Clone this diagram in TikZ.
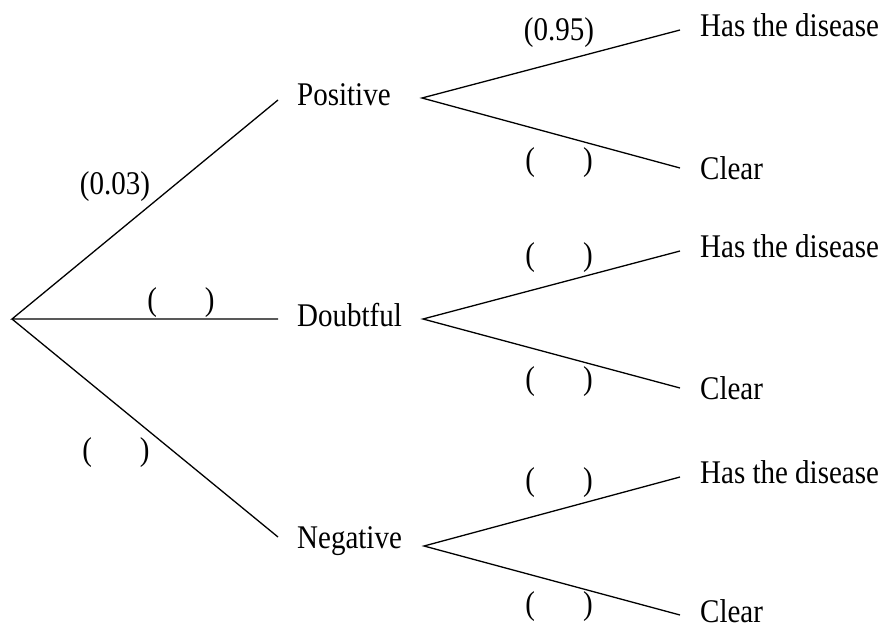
\documentclass[tikz,border=0pt]{standalone}
\usepackage{fontspec}
\setmainfont{Liberation Serif}
\newcommand\tallt[1]{\scalebox{1}[1.14]{#1}}
\newcommand\blankpar{\tallt{(\hspace{48pt})}}
\begin{document}
\begin{tikzpicture}[x=1pt,y=-1pt,
  every node/.style={inner sep=0pt, font=\fontsize{29}{34}\selectfont},
  branch/.style={line width=1.3pt, line join=miter},
  word/.style={anchor=base west},
  prob/.style={anchor=center}]
\useasboundingbox (0,0) rectangle (883,629);
% first stage
\coordinate (root) at (12,319);
\coordinate (posL) at (278,100);
\coordinate (douL) at (278,319);
\coordinate (negL) at (278,537);
\node[word] (pos) at (297,105) {\tallt{Positive}};
\node[word] (dou) at (297,326) {\tallt{Doubtful}};
\node[word] (neg) at (297,548) {\tallt{Negative}};
\draw[branch] (posL) -- (root) -- (douL);
\draw[branch] (root) -- (negL);
\node[prob] (p1) at (115,187) {\tallt{(0.03)}};
\node[prob] (p2) at (181,303) {\blankpar};
\node[prob] (p3) at (116,453) {\blankpar};
% second stage
\coordinate (posR) at (422,98);
\coordinate (douR) at (423,319);
\coordinate (negR) at (424,546);
\coordinate (h1) at (680,30);
\coordinate (c1) at (680,168);
\coordinate (h2) at (680,251);
\coordinate (c2) at (680,388);
\coordinate (h3) at (680,477);
\coordinate (c3) at (680,615);
\draw[branch] (h1) -- (posR) -- (c1);
\draw[branch] (h2) -- (douR) -- (c2);
\draw[branch] (h3) -- (negR) -- (c3);
\node[word] (hd1) at (700,36) {\tallt{Has the disease}};
\node[word] (cl1) at (700,179) {\tallt{Clear}};
\node[word] (hd2) at (700,257) {\tallt{Has the disease}};
\node[word] (cl2) at (700,399) {\tallt{Clear}};
\node[word] (hd3) at (700,483) {\tallt{Has the disease}};
\node[word] (cl3) at (700,622) {\tallt{Clear}};
\node[prob] (q1) at (559,33) {\tallt{(0.95)}};
\node[prob] (q2) at (559,163) {\blankpar};
\node[prob] (q3) at (559,258) {\blankpar};
\node[prob] (q4) at (559,382) {\blankpar};
\node[prob] (q5) at (559,483) {\blankpar};
\node[prob] (q6) at (559,607) {\blankpar};
\end{tikzpicture}
\end{document}
